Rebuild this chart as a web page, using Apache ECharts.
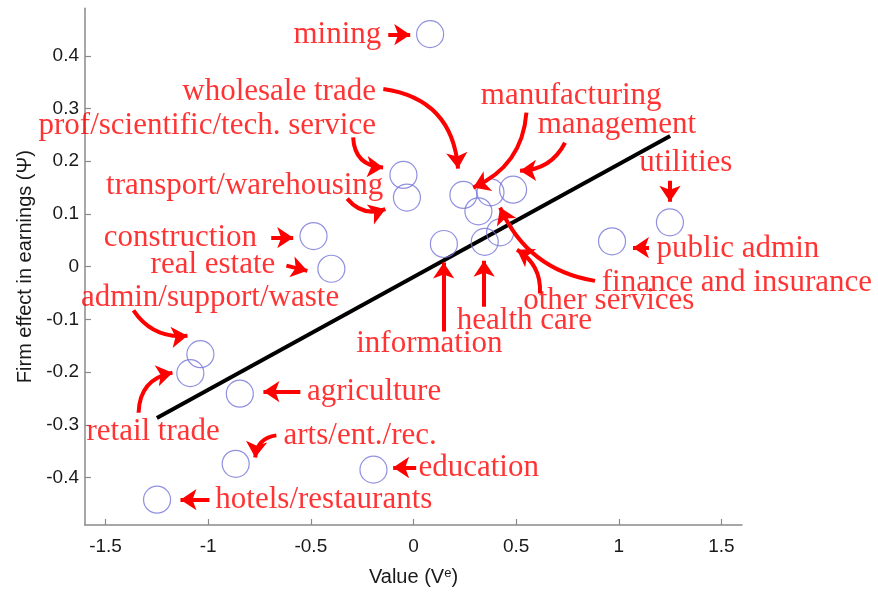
<!DOCTYPE html>
<html><head><meta charset="utf-8">
<script src="https://cdn.jsdelivr.net/npm/echarts@6/dist/echarts.min.js"></script>
<style>html,body{margin:0;padding:0;background:#fff}#c{width:878px;height:594px}</style>
</head><body><div id="c"></div>
<script>
// ---- data ----
const industries = ['mining','wholesale trade','prof/scientific/tech. service','transport/warehousing','construction','real estate','admin/support/waste','retail trade','agriculture','arts/ent./rec.','education','hotels/restaurants','manufacturing','management','utilities','public admin','finance and insurance','other services','health care','information'];
const valueVe    = [0.081, 0.243, -0.049, -0.032, -0.487, -0.400, -1.038, -1.087, -0.846, -0.866, -0.195, -1.249, 0.375, 0.485, 1.249, 0.967, 0.316, 0.422, 0.347, 0.148];
const firmEffect = [0.441, 0.136, 0.174, 0.131, 0.058, -0.004, -0.166, -0.202, -0.241, -0.374, -0.385, -0.442, 0.141, 0.146, 0.084, 0.048, 0.105, 0.065, 0.047, 0.043];
const fitX = [-1.25, 1.25];
const fitY = [-0.287, 0.248];
const xTicks = [-1.5, -1, -0.5, 0, 0.5, 1, 1.5];
const yTicks = [-0.4, -0.3, -0.2, -0.1, 0, 0.1, 0.2, 0.3, 0.4];

// ---- annotation layout (data units) ----
const noteAt    = [[-0.157,0.440],[-0.183,0.332],[-0.183,0.267],[-0.147,0.154],[-0.762,0.055],[-0.673,0.004],[-0.362,-0.059],[-1.593,-0.313],[-0.519,-0.237],[-0.633,-0.320],[0.024,-0.381],[-0.965,-0.442],[0.328,0.324],[0.605,0.269],[1.100,0.197],[1.184,0.034],[0.917,-0.030],[0.534,-0.064],[0.211,-0.102],[-0.279,-0.146]];
const noteAlign = ['right','right','right','right','right','right','right','left','left','left','left','left','left','left','left','left','left','left','left','left'];
const arrowFrom = [[-0.123,0.440],[-0.147,0.337],[-0.294,0.245],[-0.323,0.129],[-0.693,0.055],[-0.619,0.002],[-1.364,-0.083],[-1.339,-0.277],[-0.551,-0.237],[-0.668,-0.320],[0.013,-0.381],[-0.994,-0.442],[0.550,0.292],[0.738,0.235],[1.249,0.163],[1.147,0.036],[0.884,-0.027],[0.616,-0.051],[0.344,-0.076],[0.147,-0.123]];
const arrowTo   = [[-0.016,0.440],[0.217,0.186],[-0.148,0.188],[-0.137,0.109],[-0.586,0.055],[-0.517,-0.008],[-1.101,-0.131],[-1.174,-0.201],[-0.731,-0.237],[-0.771,-0.362],[-0.099,-0.381],[-1.135,-0.442],[0.291,0.150],[0.519,0.182],[1.249,0.123],[1.069,0.036],[0.422,0.112],[0.504,0.032],[0.344,0.011],[0.147,0.008]];
const arrowCurve = [0,0.4,-0.45,-0.35,0,0,-0.3,0.4,0,-0.4,0,0,0.3,0.3,0,0,0.27,-0.3,0,0];

const chart = echarts.init(document.getElementById('c'), null, {renderer:'canvas'});
const axisGray = '#8a8a8a';
const tickFont = {fontFamily:'Liberation Sans, Arial, sans-serif', fontSize:19, color:'#1a1a1a'};

chart.setOption({
  animation:false,
  backgroundColor:'#ffffff',
  grid:{left:85, right:136, top:8.3, bottom:69, containLabel:false, outerBoundsMode:'none'},
  xAxis:{
    type:'value', min:-1.6, max:1.6,
    axisLine:{show:true, onZero:false, lineStyle:{color:axisGray, width:1.5}},
    axisTick:{show:true, inside:true, length:6, lineStyle:{color:axisGray, width:1.2}, customValues:xTicks},
    axisLabel:Object.assign({margin:12, customValues:xTicks}, tickFont),
    splitLine:{show:false},
    name:'Value (V{sup|e})', nameLocation:'middle', nameGap:42,
    nameTextStyle:{fontFamily:'Liberation Sans, Arial, sans-serif', fontSize:20, color:'#1a1a1a',
      rich:{sup:{fontFamily:'Liberation Sans, Arial, sans-serif', fontSize:13, color:'#1a1a1a', verticalAlign:'top', lineHeight:20}}}
  },
  yAxis:{
    type:'value', min:-0.49, max:0.49,
    axisLine:{show:true, onZero:false, lineStyle:{color:axisGray, width:1.5}},
    axisTick:{show:true, inside:true, length:6, lineStyle:{color:axisGray, width:1.2}, customValues:yTicks},
    axisLabel:Object.assign({margin:6, customValues:yTicks}, tickFont),
    splitLine:{show:false},
    name:'Firm effect in earnings (Ψ)', nameLocation:'middle', nameGap:46, nameRotate:90,
    nameTextStyle:{fontFamily:'Liberation Sans, Arial, sans-serif', fontSize:20, color:'#1a1a1a'}
  },
  series:[
    {
      type:'line', data:fitX.map((x,i)=>[x,fitY[i]]), symbol:'none', silent:true, z:2,
      lineStyle:{color:'#000000', width:4}
    },
    {
      type:'scatter', name:'industries', z:3, silent:true,
      data:industries.map((n,i)=>({name:n, value:[valueVe[i], firmEffect[i]]})),
      symbol:'circle', symbolSize:27,
      itemStyle:{color:'rgba(0,0,0,0)', borderColor:'#7474d8', borderWidth:1.2}
    },
    {
      type:'lines', coordinateSystem:'cartesian2d', z:4, silent:true,
      symbol:['none','arrow'], symbolSize:16,
      lineStyle:{color:'#ff0000', width:4, opacity:1},
      data:industries.map((n,i)=>({coords:[arrowFrom[i], arrowTo[i]], lineStyle:{curveness:arrowCurve[i]}}))
    },
    {
      type:'scatter', name:'notes', z:5, silent:true,
      symbolSize:1, itemStyle:{color:'rgba(0,0,0,0)'},
      labelLayout:{hideOverlap:false},
      data:industries.map((n,i)=>({name:n, value:noteAt[i], label:{align:noteAlign[i]}})),
      label:{show:true, position:'inside', formatter:'{b}', verticalAlign:'middle', offset:[0,2],
        fontFamily:'Liberation Serif, Times New Roman, serif', fontSize:31, color:'#ff0000'}
    }
  ]
});
</script></body></html>
